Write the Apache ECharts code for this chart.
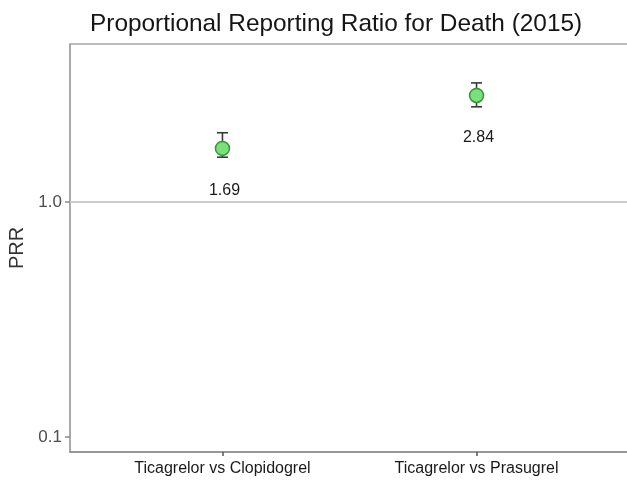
<!DOCTYPE html>
<html>
<head>
<meta charset="utf-8">
<title>Proportional Reporting Ratio for Death (2015)</title>
<script src="https://cdn.jsdelivr.net/npm/echarts@6/dist/echarts.min.js"></script>
<style>
  html, body { margin: 0; padding: 0; background: #ffffff; }
  #chart { width: 627px; height: 483px; }
</style>
</head>
<body>
<div id="chart"></div>
<script>
// Comparison groups shown along the x axis
const categories = ['Ticagrelor vs Clopidogrel', 'Ticagrelor vs Prasugrel'];
// Point estimates of the PRR
const prrValues = [1.69, 2.84];
// Lower / upper bounds of the interval around each estimate
const lowerBounds = [1.55, 2.54];
const upperBounds = [1.97, 3.21];
// Labelled ticks on the log-scaled PRR axis
const yTickValues = [0.1, 1];

const xPositions = categories.map((_, i) => i + 1);
const pointData = xPositions.map((x, i) => [x, prrValues[i]]);
const barData = xPositions.map((x, i) => [x, lowerBounds[i], upperBounds[i]]);

const chart = echarts.init(document.getElementById('chart'), null, { renderer: 'canvas' });

const font = 'Liberation Sans, Arial, sans-serif';

chart.setOption({
  animation: false,
  backgroundColor: '#ffffff',
  title: {
    text: 'Proportional Reporting Ratio for Death (2015)',
    left: 90,
    top: 10,
    padding: 0,
    textStyle: { fontFamily: font, fontSize: 24.4, fontWeight: 'normal', color: '#151515', lineHeight: 28 }
  },
  grid: {
    left: 70, top: 44, width: 559, height: 408,
    outerBoundsMode: 'none',
    show: true, borderColor: '#a6a6a6', borderWidth: 1.5, backgroundColor: 'transparent'
  },
  xAxis: {
    type: 'value',
    min: 0.4,
    max: 2.6,
    splitLine: { show: false },
    axisLine: { show: true, lineStyle: { color: '#8c8c8c', width: 1.5 } },
    axisTick: { show: true, length: 4, customValues: xPositions, lineStyle: { color: '#555', width: 1.5 } },
    axisLabel: {
      customValues: xPositions,
      margin: 9,
      fontFamily: font, fontSize: 16, color: '#1a1a1a',
      formatter: v => categories[Math.round(v) - 1] || ''
    }
  },
  yAxis: {
    type: 'log',
    logBase: 10,
    min: 0.0863,
    max: 4.70,
    name: 'PRR',
    nameLocation: 'middle',
    nameGap: 39,
    nameTextStyle: { fontFamily: font, fontSize: 20, color: '#333' },
    splitLine: { show: false },
    axisLine: { show: true, lineStyle: { color: '#a6a6a6', width: 1.5 } },
    axisTick: { show: true, length: 5, customValues: yTickValues, lineStyle: { color: '#888', width: 1.5 } },
    axisLabel: {
      customValues: yTickValues,
      margin: 8,
      fontFamily: font, fontSize: 17, color: '#4d4d4d',
      formatter: v => Number(v).toFixed(1)
    }
  },
  series: [
    {
      // interval whiskers with caps
      type: 'custom',
      data: barData,
      z: 2,
      renderItem: function (params, api) {
        const x = api.value(0);
        const lo = api.coord([x, api.value(1)]);
        const hi = api.coord([x, api.value(2)]);
        const half = 5.5;
        const style = { stroke: '#3a3a3a', lineWidth: 1.6, fill: null };
        return {
          type: 'group',
          children: [
            { type: 'line', shape: { x1: lo[0], y1: lo[1], x2: hi[0], y2: hi[1] }, style },
            { type: 'line', shape: { x1: hi[0] - half, y1: hi[1], x2: hi[0] + half, y2: hi[1] }, style },
            { type: 'line', shape: { x1: lo[0] - half, y1: lo[1], x2: lo[0] + half, y2: lo[1] }, style }
          ]
        };
      }
    },
    {
      type: 'scatter',
      data: pointData,
      z: 3,
      symbol: 'circle',
      symbolSize: 14,
      itemStyle: { color: '#7be07b', borderColor: '#2f9a2f', borderWidth: 1.5, opacity: 1 },
      label: {
        show: true,
        position: 'inside',
        offset: [2, 42],
        fontFamily: font, fontSize: 16, color: '#1a1a1a',
        formatter: p => p.value[1].toFixed(2)
      },
      markLine: {
        silent: true,
        symbol: 'none',
        label: { show: false },
        lineStyle: { color: '#cccccc', width: 2, type: 'solid' },
        data: [{ yAxis: 1 }]
      }
    }
  ]
});
</script>
</body>
</html>
